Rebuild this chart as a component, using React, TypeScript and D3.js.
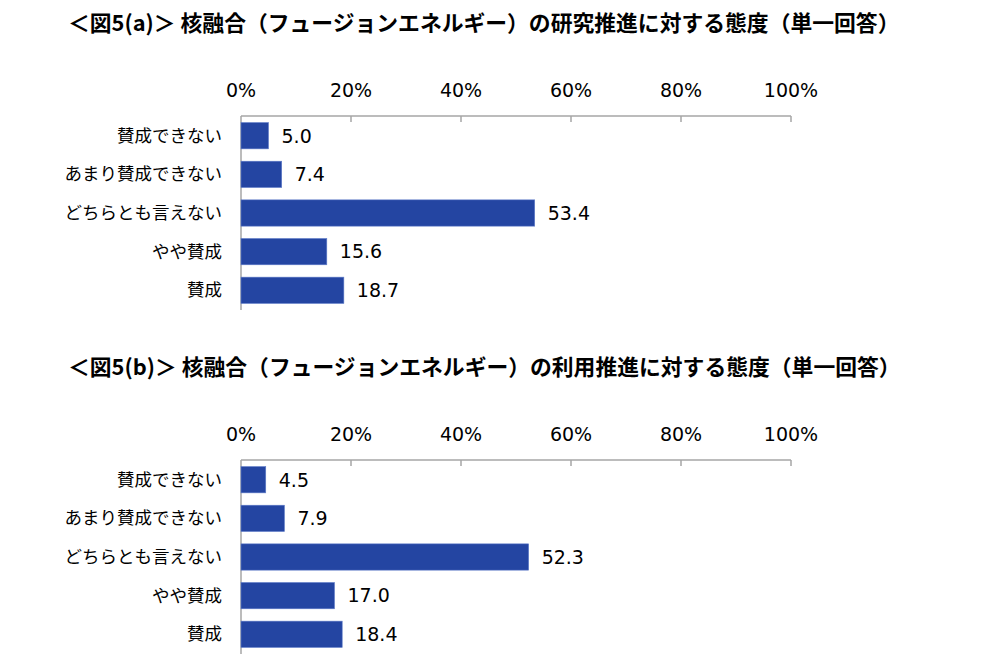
import React from 'react'
import * as d3 from 'd3'

const categories = ['賛成できない', 'あまり賛成できない', 'どちらとも言えない', 'やや賛成', '賛成']
const researchValues = [5.0, 7.4, 53.4, 15.6, 18.7]
const useValues = [4.5, 7.9, 52.3, 17.0, 18.4]
const tickValues = [0, 20, 40, 60, 80, 100]
const titles = [
  '＜図5(a)＞ 核融合（フュージョンエネルギー）の研究推進に対する態度（単一回答）',
  '＜図5(b)＞ 核融合（フュージョンエネルギー）の利用推進に対する態度（単一回答）',
]

const BAR_COLOR = '#2445a2'
const AXIS_COLOR = '#a6a6a6'
const NUM_FONT = '"DejaVu Sans", Verdana, sans-serif'
const JP_FONT = '"Noto Sans CJK JP", "Noto Sans", sans-serif'

interface PanelProps {
  title: string
  values: number[]
  top: number
}

function Panel({ title, values, top }: PanelProps) {
  const axisY = top + 93
  const x = d3.scaleLinear().domain([0, 100]).range([241, 791])
  const y = d3
    .scaleBand<string>()
    .domain(categories)
    .range([axisY, axisY + 194])
    .paddingInner(0.32)
    .paddingOuter(0.17)

  return (
    <g>
      <text
        x={68}
        y={top + 8}
        fontFamily={JP_FONT}
        fontWeight={700}
        fontSize={21.8}
        fill="#000"
      >
        {title}
      </text>

      {tickValues.map((t) => (
        <text
          key={'l' + t}
          x={x(t)}
          y={axisY - 19}
          textAnchor="middle"
          fontFamily={NUM_FONT}
          fontSize={19}
          fill="#000"
        >
          {t}%
        </text>
      ))}

      <line x1={x(0)} x2={x(100)} y1={axisY} y2={axisY} stroke={AXIS_COLOR} strokeWidth={1.5} />
      {tickValues.slice(1).map((t) => (
        <line
          key={'t' + t}
          x1={x(t)}
          x2={x(t)}
          y1={axisY}
          y2={axisY + 6}
          stroke={AXIS_COLOR}
          strokeWidth={1.5}
        />
      ))}
      <line x1={x(0)} x2={x(0)} y1={axisY} y2={axisY + 194} stroke={AXIS_COLOR} strokeWidth={1.5} />

      {categories.map((c, i) => {
        const by = y(c) ?? 0
        const bh = y.bandwidth()
        return (
          <g key={c}>
            <text
              x={222}
              y={by + bh / 2}
              dy="0.35em"
              textAnchor="end"
              fontFamily={JP_FONT}
              fontSize={17.5}
              fill="#000"
            >
              {c}
            </text>
            <rect
              x={x(0)}
              y={by}
              width={x(values[i]) - x(0)}
              height={bh}
              fill={BAR_COLOR}
              stroke="#5f7cc8"
              strokeWidth={0.6}
            />
            <text
              x={x(values[i]) + 13}
              y={by + bh / 2}
              dy="0.36em"
              fontFamily={NUM_FONT}
              fontSize={19}
              fill="#000"
            >
              {values[i].toFixed(1)}
            </text>
          </g>
        )
      })}
    </g>
  )
}

export default function App() {
  return (
    <svg
      width={1000}
      height={667}
      style={{ position: 'absolute', left: 0, top: 0, background: '#fff' }}
    >
      <rect width={1000} height={667} fill="#fff" />
      <Panel title={titles[0]} values={researchValues} top={23} />
      <Panel title={titles[1]} values={useValues} top={367} />
    </svg>
  )
}
